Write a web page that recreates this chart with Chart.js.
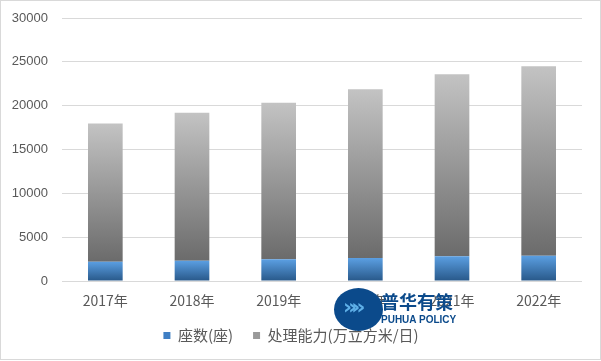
<!DOCTYPE html>
<html><head><meta charset="utf-8">
<script src="https://cdn.jsdelivr.net/npm/chart.js@4/dist/chart.umd.min.js"></script>
<style>
html,body{margin:0;padding:0;background:#fff;}
#wrap{position:relative;width:601px;height:361px;}
#frame{position:absolute;left:0;top:0;width:599px;height:358px;border:1px solid #d9d9d9;pointer-events:none;}
#logo{position:absolute;left:334px;top:288px;width:49px;height:43px;border-radius:50%;background:#0b4a8b;}
#logo span{position:absolute;color:#5fb0e8;font:bold 22px 'DejaVu Sans';top:6px;left:9px;letter-spacing:-6px;}
#lt1{position:absolute;left:381px;top:290px;font:bold 18px 'Noto Sans CJK SC';color:#0b4a8b;line-height:22px;letter-spacing:0px;}
#lt2{position:absolute;left:381px;top:314px;font:bold 10px 'Liberation Sans';color:#0b4a8b;line-height:11px;}
</style></head>
<body><div id="wrap"><canvas id="c" width="601" height="361"></canvas>
<div id="frame"></div>
<div id="logo"><span>»»</span></div><div id="lt1">普华有策</div><div id="lt2">PUHUA POLICY</div>
</div>
<script>
const categories = ['2017年','2018年','2019年','2020年','2021年','2022年'];
const plantCount = [2209, 2321, 2471, 2618, 2827, 2894];
const capacity = [15743, 16881, 17863, 19267, 20767, 21606];
const seriesNames = ['座数(座)', '处理能力(万立方米/日)'];
const yTicks = [0, 5000, 10000, 15000, 20000, 25000, 30000];

function gradFor(top, bottom){
  return function(ctx){
    const chart = ctx.chart;
    const ys = chart.scales.y;
    if (!ys || ctx.dataIndex === undefined) return top;
    let base = 0;
    for (let d = 0; d < ctx.datasetIndex; d++) base += chart.data.datasets[d].data[ctx.dataIndex];
    const val = base + ctx.raw;
    const y0 = ys.getPixelForValue(val), y1 = ys.getPixelForValue(base);
    if (!isFinite(y0) || !isFinite(y1) || y0 === y1) return top;
    const g = chart.ctx.createLinearGradient(0, y0, 0, y1);
    g.addColorStop(0, top); g.addColorStop(1, bottom);
    return g;
  };
}
const legendColors = ['#3f7fc4', '#9a9a9a'];

new Chart(document.getElementById('c'), {
  type: 'bar',
  data: {
    labels: categories,
    datasets: [
      {label: seriesNames[0], data: plantCount, backgroundColor: gradFor('#5b9fe2', '#285889')},
      {label: seriesNames[1], data: capacity, backgroundColor: gradFor('#c3c3c3', '#6b6b6b')}
    ]
  },
  options: {
    responsive: false, animation: false,
    layout: {padding: {top: 18, right: 19, left: 0, bottom: 8}},
    datasets: {bar: {categoryPercentage: 1, barPercentage: 0.4}},
    plugins: {
      tooltip: {enabled: false},
      legend: {
        position: 'bottom',
        labels: {
          font: {family: "'Noto Sans CJK SC'", size: 15}, color: '#595959',
          boxWidth: 7, boxHeight: 7, padding: 20,
          generateLabels: (chart) => chart.data.datasets.map((ds, i) => ({
            text: ds.label, fillStyle: legendColors[i], strokeStyle: legendColors[i], lineWidth: 0, datasetIndex: i, fontColor: '#595959'
          }))
        }
      }
    },
    scales: {
      x: {
        stacked: true,
        grid: {display: false},
        border: {display: false},
        ticks: {font: {family: "'Noto Sans CJK SC'", size: 14}, color: '#595959', padding: 3},
        afterFit: s => { s.height = 27; }
      },
      y: {
        stacked: true, min: 0, max: 30000,
        afterBuildTicks: s => { s.ticks = yTicks.map(v => ({value: v})); },
        grid: {color: '#d9d9d9', drawTicks: true, tickLength: 11, tickColor: 'rgba(0,0,0,0)'},
        border: {display: false},
        ticks: {font: {family: "'Liberation Sans'", size: 13}, color: '#595959', padding: 3, callback: v => String(v)},
        afterFit: s => { s.width = 62; }
      }
    }
  }
});
</script></body></html>
